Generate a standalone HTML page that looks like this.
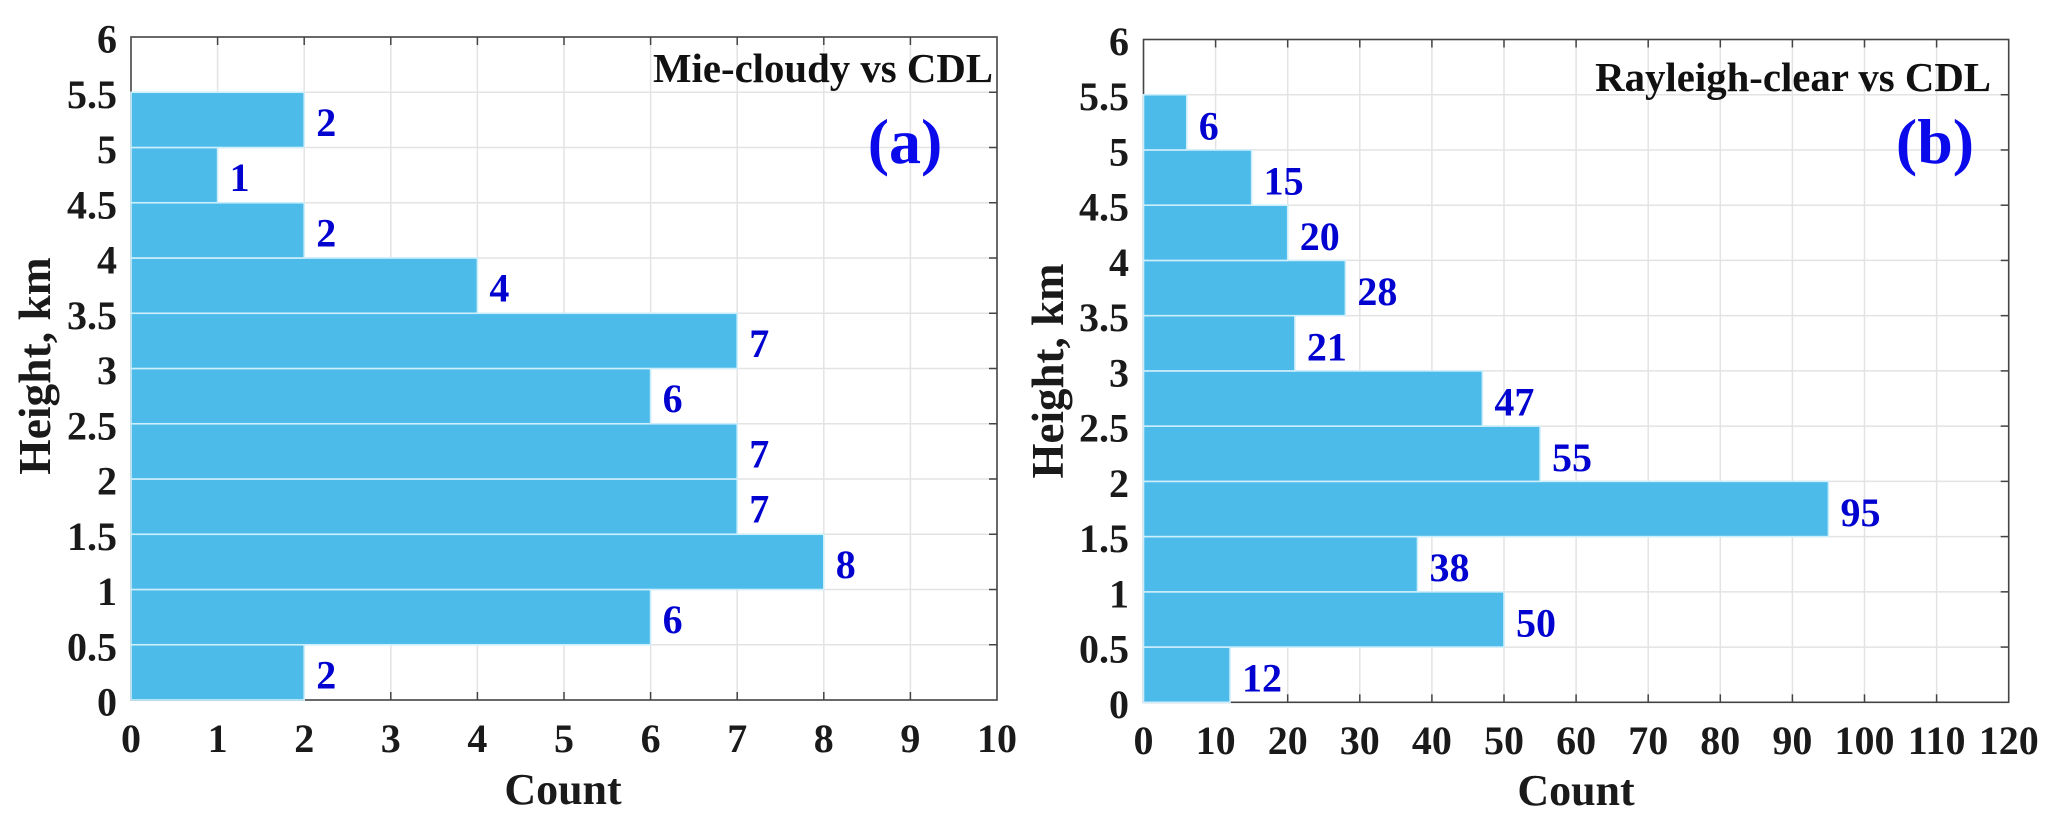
<!DOCTYPE html>
<html lang="en">
<head>
<meta charset="utf-8">
<title>Height histograms: Mie-cloudy and Rayleigh-clear vs CDL</title>
<style>
  html, body { margin: 0; padding: 0; background: #fff; }
  svg { display: block; font-family: "Liberation Serif", serif; font-weight: bold; }
</style>
</head>
<body>
<svg id="figure" xmlns="http://www.w3.org/2000/svg" width="2067" height="833" viewBox="0 0 2067 833">
  <rect width="2067" height="833" fill="#ffffff"/>
  <g id="panel-a"></g>
  <g id="panel-b"></g>

  <text x="993" y="82" text-anchor="end" font-size="40.8" fill="#111">Mie-cloudy vs CDL</text>
  <text x="905" y="163" text-anchor="middle" font-size="64" fill="#0a0aeb">(a)</text>
  <text transform="translate(50 366) rotate(-90)" text-anchor="middle" font-size="45.5" fill="#1a1a1a">Height, km</text>
  <text x="563" y="804" text-anchor="middle" font-size="44" fill="#1a1a1a">Count</text>

  <text x="1991" y="91" text-anchor="end" font-size="40.8" fill="#111">Rayleigh-clear vs CDL</text>
  <text x="1935" y="163" text-anchor="middle" font-size="64" fill="#0a0aeb">(b)</text>
  <text transform="translate(1063 371) rotate(-90)" text-anchor="middle" font-size="45" fill="#1a1a1a">Height, km</text>
  <text x="1576" y="805" text-anchor="middle" font-size="44" fill="#1a1a1a">Count</text>
</svg>
<script>
// Chart data (bins listed from the lowest height upward)
const heightTicks = [0, 0.5, 1, 1.5, 2, 2.5, 3, 3.5, 4, 4.5, 5, 5.5, 6];
const binStartsKm = [0, 0.5, 1, 1.5, 2, 2.5, 3, 3.5, 4, 4.5, 5];
const mieCloudyCounts = [2, 6, 8, 7, 7, 6, 7, 4, 2, 1, 2];
const rayleighClearCounts = [12, 50, 38, 95, 55, 47, 21, 28, 20, 15, 6];
const mieCountTicks = [0, 1, 2, 3, 4, 5, 6, 7, 8, 9, 10];
const rayleighCountTicks = [0, 10, 20, 30, 40, 50, 60, 70, 80, 90, 100, 110, 120];
const binWidthKm = 0.5;

const SVG_NS = 'http://www.w3.org/2000/svg';

function make(parent, tag, attrs, text) {
  const el = document.createElementNS(SVG_NS, tag);
  for (const k in attrs) el.setAttribute(k, attrs[k]);
  if (text !== undefined) el.textContent = text;
  parent.appendChild(el);
  return el;
}

function drawPanel(parent, box, counts, countTicks, labelOpts) {
  const xMax = countTicks[countTicks.length - 1];
  const yMax = heightTicks[heightTicks.length - 1];
  const xScale = function (v) { return box.left + (v / xMax) * (box.right - box.left); };
  const yScale = function (v) { return box.bottom - (v / yMax) * (box.bottom - box.top); };
  const gridColor = '#e3e3e3';
  const axisColor = '#444444';

  countTicks.slice(1, -1).forEach(function (t) {
    const line = make(parent, 'line', { x1: xScale(t), x2: xScale(t), y1: box.top, y2: box.bottom, stroke: gridColor, 'stroke-width': 1.5 });
    
    
  });
  heightTicks.slice(1, -1).forEach(function (t) {
    const line = make(parent, 'line', { x1: box.left, x2: box.right, y1: yScale(t), y2: yScale(t), stroke: gridColor, 'stroke-width': 1.5 });
    
    
  });

  const frame = make(parent, 'rect', { x: box.left, y: box.top, width: box.right - box.left, height: box.bottom - box.top, fill: 'none', stroke: axisColor, 'stroke-width': 1.6 });
  
  

  countTicks.slice(1, -1).forEach(function (t) {
    const x = xScale(t);
    const top = make(parent, 'line', { x1: x, x2: x, y1: box.top, y2: box.top + 8, stroke: axisColor, 'stroke-width': 1.5 });
    
    
    const bottom = make(parent, 'line', { x1: x, x2: x, y1: box.bottom, y2: box.bottom - 8, stroke: axisColor, 'stroke-width': 1.5 });
    
    
  });
  heightTicks.slice(1, -1).forEach(function (t) {
    const y = yScale(t);
    const right = make(parent, 'line', { x1: box.right, x2: box.right - 8, y1: y, y2: y, stroke: axisColor, 'stroke-width': 1.5 });
    
    
    const left = make(parent, 'line', { x1: box.left, x2: box.left + 8, y1: y, y2: y, stroke: axisColor, 'stroke-width': 1.5 });
    
    
  });

  counts.forEach(function (value, i) {
    const y0 = yScale(binStartsKm[i]);
    const y1 = yScale(binStartsKm[i] + binWidthKm);
    const x1 = xScale(value);
    const bar = make(parent, 'rect', { x: box.left, y: y1, width: x1 - box.left, height: y0 - y1, fill: '#4cbbea', stroke: '#cdeefb', 'stroke-width': 1.6 });
    
    
    const label = make(parent, 'text', { x: x1 + labelOpts.dx, y: (y0 + y1) / 2 + labelOpts.dy, 'font-size': 40, fill: '#0202d0' }, String(value));
    
    
  });

  countTicks.forEach(function (t) {
    const label = make(parent, 'text', { x: xScale(t), y: labelOpts.xLabelY, 'text-anchor': 'middle', 'font-size': 40, fill: '#1a1a1a' }, String(t));
    
    
  });
  heightTicks.forEach(function (t) {
    const label = make(parent, 'text', { x: labelOpts.yLabelX, y: yScale(t) + 15.5, 'text-anchor': 'end', 'font-size': 40, fill: '#1a1a1a' }, String(t));
    
    
  });
}

drawPanel(document.getElementById('panel-a'),
  { left: 131, right: 997, top: 37, bottom: 700 },
  mieCloudyCounts, mieCountTicks,
  { dx: 12, dy: 16, xLabelY: 752, yLabelX: 117 });

drawPanel(document.getElementById('panel-b'),
  { left: 1143.5, right: 2008.7, top: 39.5, bottom: 702.3 },
  rayleighClearCounts, rayleighCountTicks,
  { dx: 12, dy: 17, xLabelY: 754, yLabelX: 1129 });
</script>
</body>
</html>
